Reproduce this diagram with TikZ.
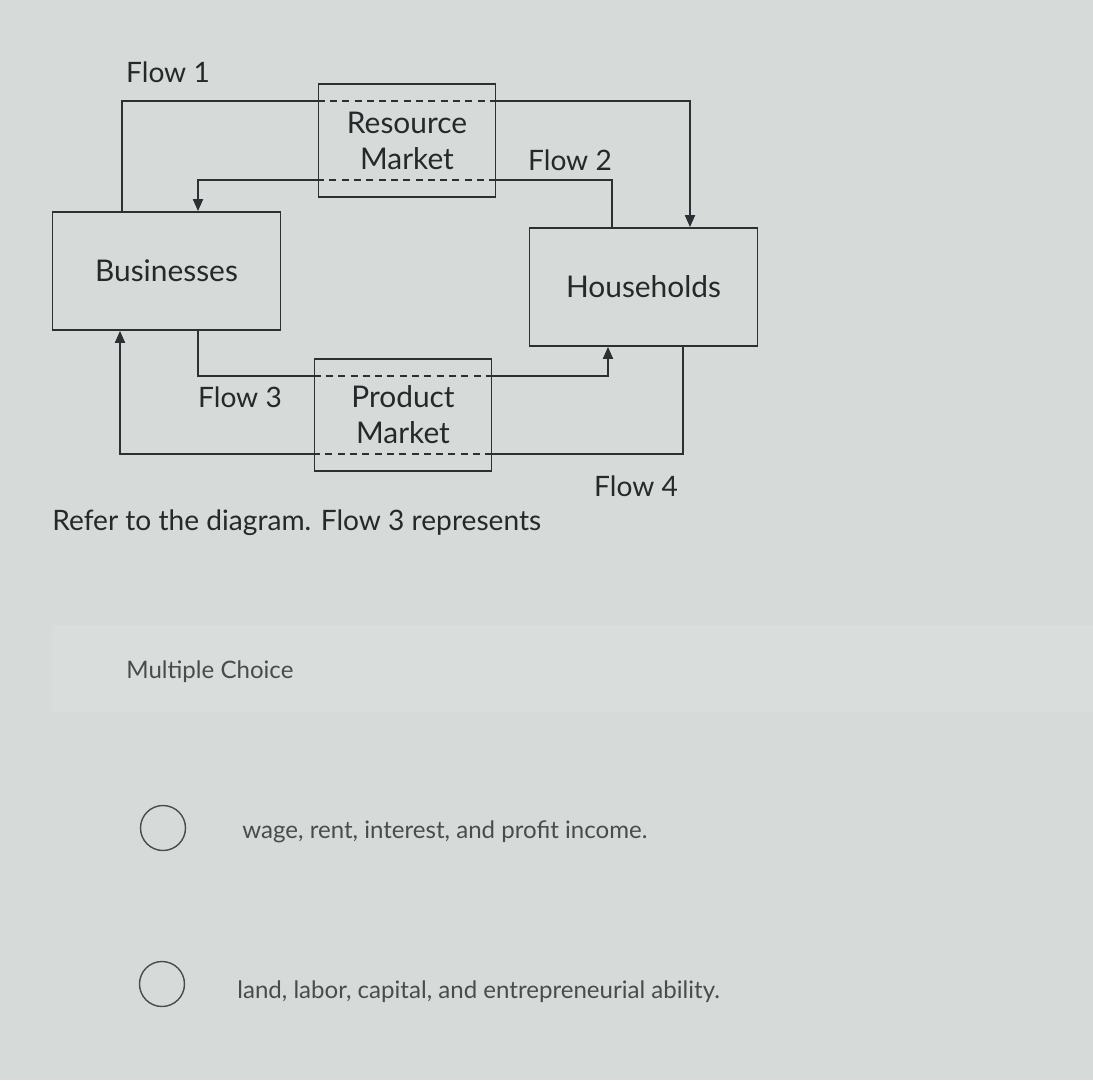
\documentclass[tikz,border=0pt]{standalone}
\usepackage{fontspec}
\setmainfont{Lato}
\usetikzlibrary{positioning, arrows.meta, calc}
\definecolor{screenbg}{RGB}{214,219,218}
\definecolor{bandbg}{RGB}{217,221,220}
\definecolor{inkline}{RGB}{45,48,50}
\definecolor{inktext}{RGB}{38,40,42}
\definecolor{opttext}{RGB}{72,76,78}
\tikzset{
    sectorbox/.style={rectangle, draw=inkline, fill=screenbg, minimum width=4.56cm, minimum height=2.36cm, align=center, font=\fontsize{17}{20}\selectfont, text=inktext, line width=1pt},
    marketbox/.style={rectangle, draw=inkline, fill=screenbg, minimum width=3.54cm, minimum height=2.25cm, align=center, font=\fontsize{17}{20.5}\selectfont, text=inktext, line width=1pt},
    flowlbl/.style={font=\fontsize{16}{19}\selectfont, text=inktext},
    flowline/.style={line width=1.1pt, color=inkline},
    arr/.style={-{Triangle[length=0.24cm, width=0.2cm]}, line width=1.1pt, color=inkline},
    arrdash/.style={dashed, dash pattern=on 4pt off 3pt, line width=1pt, color=inkline},
    qtext/.style={font=\fontsize{16}{19}\selectfont, text=inktext, anchor=west, inner sep=0pt},
    opttxt/.style={font=\fontsize{13.7}{16}\selectfont, text=opttext, anchor=west, inner sep=0pt},
    radio/.style={circle, draw=opttext, line width=0.8pt, minimum size=0.9cm, inner sep=0pt}
}
\begin{document}
\begin{tikzpicture}
    \fill[screenbg] (0,0) rectangle (21.86,-21.6);
    \useasboundingbox (0,0) rectangle (21.86,-21.6);
    \fill[bandbg] (1.04,-12.5) rectangle (21.86,-14.24);
    % markets and sectors
    \node[marketbox] (rm) at (8.14,-2.81) {Resource\\Market};
    \node[marketbox] (pm) at (8.06,-8.30) {Product\\Market};
    \node[sectorbox] (bus) at (3.33,-5.42) {Businesses};
    \node[sectorbox] (hh) at (12.87,-5.74) {Households};
    \path (rm.north west) ++(0,-0.36) coordinate (rmtl)
          (rm.north east) ++(0,-0.36) coordinate (rmtr)
          (rm.south west) ++(0,0.36) coordinate (rmbl)
          (rm.south east) ++(0,0.36) coordinate (rmbr)
          (pm.north west) ++(0,-0.36) coordinate (pmtl)
          (pm.north east) ++(0,-0.36) coordinate (pmtr)
          (pm.south west) ++(0,0.36) coordinate (pmbl)
          (pm.south east) ++(0,0.36) coordinate (pmbr);
    % flow 1
    \draw[flowline] ([xshift=-0.89cm]bus.north) |- (rmtl);
    \draw[arrdash] (rmtl) -- (rmtr);
    \draw[arr] (rmtr) -| ([xshift=0.93cm]hh.north);
    % flow 2
    \draw[flowline] ([xshift=-0.63cm]hh.north) |- (rmbr);
    \draw[arrdash] (rmbr) -- (rmbl);
    \draw[arr] (rmbl) -| ([xshift=0.63cm]bus.north);
    % flow 3
    \draw[flowline] ([xshift=0.63cm]bus.south) |- (pmtl);
    \draw[arrdash] (pmtl) -- (pmtr);
    \draw[arr] (pmtr) -| ([xshift=-0.71cm]hh.south);
    % flow 4
    \draw[flowline] ([xshift=0.79cm]hh.south) |- (pmbr);
    \draw[arrdash] (pmbr) -- (pmbl);
    \draw[arr] (pmbl) -| ([xshift=-0.93cm]bus.south);
    \node[flowlbl] (f1) at (3.36,-1.44) {Flow 1};
    \node[flowlbl] (f2) at (11.4,-3.2) {Flow 2};
    \node[flowlbl] (f3) at (4.8,-7.94) {Flow 3};
    \node[flowlbl] (f4) at (12.72,-9.72) {Flow 4};
    % question
    \node[qtext] (q) at (1.04,-10.46) {Refer to the diagram. Flow 3 represents};
    \node[opttxt] (mc) at (2.52,-13.44) {Multiple Choice};
    \node[radio] (r1) at (3.26,-16.56) {};
    \node[radio] (r2) at (3.24,-19.68) {};
    \node[opttxt] (o1) at (4.84,-16.64) {wage, rent, interest, and profit income.};
    \node[opttxt] (o2) at (4.74,-19.84) {land, labor, capital, and entrepreneurial ability.};
\end{tikzpicture}
\end{document}
